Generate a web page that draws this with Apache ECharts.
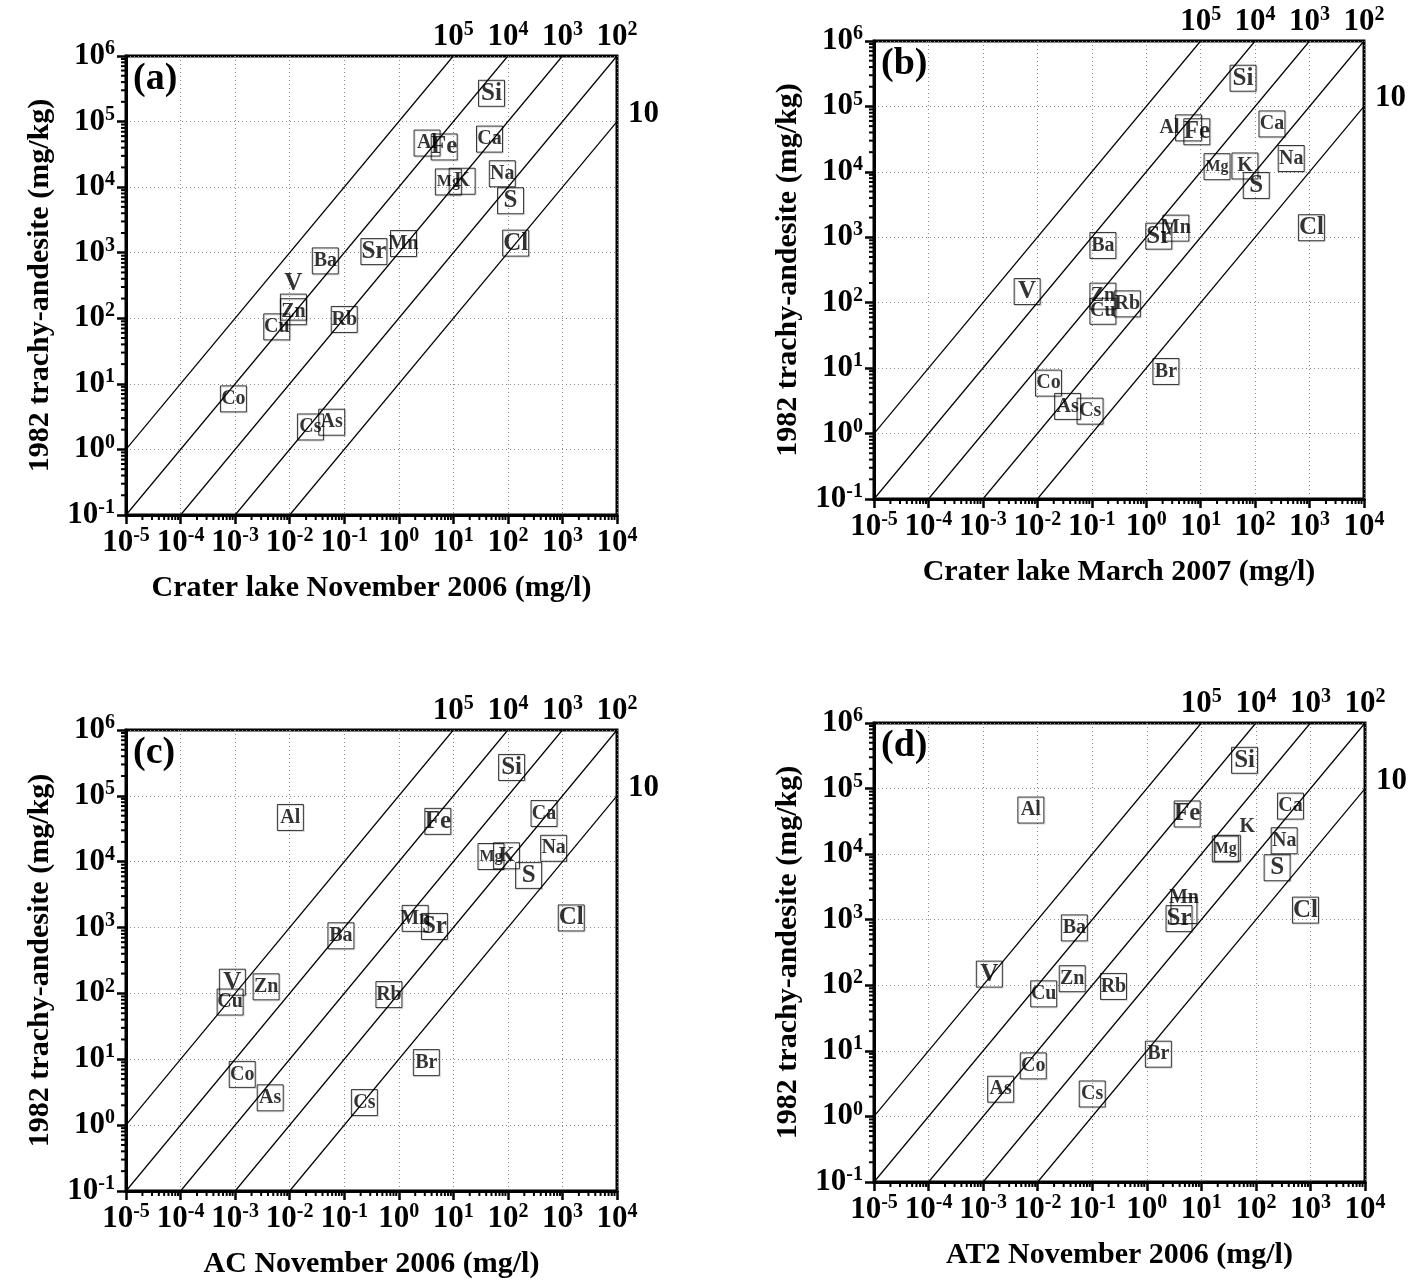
<!DOCTYPE html>
<html lang="en">
<head>
    <meta charset="UTF-8">
    <title>Trachy-andesite vs lake water</title>
    <script src="https://cdn.jsdelivr.net/npm/echarts@6.0.0/dist/echarts.min.js"></script>
    <style>
        body, html {
            margin: 0;
            padding: 0;
            background: #fff;
        }
        #chart {
            width: 1426px;
            height: 1288px;
        }
    </style>
</head>
<body>
<div id="chart"></div>
<script>
    // element order shared by every panel
    const elements = ['Si', 'Al', 'Fe', 'Ca', 'Na', 'Mg', 'K', 'S', 'Cl', 'Mn', 'Sr', 'Ba', 'V', 'Zn', 'Cu', 'Rb', 'Br', 'Co', 'As', 'Cs'];
    // 1982 trachy-andesite (mg/kg)
    const rock1982 = [2.7e5, 4.7e4, 4.1e4, 5.4e4, 1.6e4, 1.2e4, 1.23e4, 6.2e3, 1.4e3, 1.38e3, 1.04e3, 750, 148, 126, 74, 96, 8.9, 5.9, 2.6, 2.2];
    // waters (mg/l)
    const craterNov2006 = [50, 3.3, 6.8, 46, 79, 8.1, 14.5, 112, 139, 1.22, 0.35, 0.045, 0.0117, 0.0117, 0.0058, 0.10, null, 0.00093, 0.059, 0.024];
    const craterMar2007 = [60, 6.0, 8.5, 204, 460, 20, 65, 105, 1080, 3.5, 1.7, 0.16, 0.0065, 0.16, 0.16, 0.45, 2.3, 0.016, 0.036, 0.093];
    const acNov2006 = [117, 0.0103, 5.2, 460, 690, 49, 94, 240, 1450, 2.0, 4.5, 0.087, 0.00089, 0.0037, 0.00081, 0.66, 3.2, 0.00135, 0.0044, 0.234];
    const at2Nov2006 = [62, 0.0075, 5.5, 430, 330, 27.5, 30, 245, 810, 4.8, 3.9, 0.047, 0.0013, 0.043, 0.0129, 0.245, 1.63, 0.0083, 0.0021, 0.10];
    // rock / water ratio lines
    const ratios = [1e5, 1e4, 1e3, 1e2, 10];

    const panelTags = ['(a)', '(b)', '(c)', '(d)'];
    const xNames = ['Crater lake November 2006 (mg/l)', 'Crater lake March 2007 (mg/l)', 'AC November 2006 (mg/l)', 'AT2 November 2006 (mg/l)'];
    const yName = '1982 trachy-andesite (mg/kg)';
    const waters = [craterNov2006, craterMar2007, acNov2006, at2Nov2006];

    const X_MIN = 1e-5, X_MAX = 1e4, Y_MIN = 0.1, Y_MAX = 1e6;
    const FONT = '"Liberation Serif", "Times New Roman", serif';

    const grids = [
        {left: 126, top: 56, width: 491, height: 459},
        {left: 874, top: 41, width: 490, height: 458},
        {left: 126, top: 730, width: 491, height: 461},
        {left: 874, top: 723, width: 491, height: 459}
    ];

    // labels that sit off their box in the original
    const labelShift = [{V: [0, -24]}, {Al: [-19, 0]}, {}, {K: [20, -21], Mn: [0, -13]}];
    const bigLabels = ['Si', 'Fe', 'Sr', 'Cl', 'S', 'V'];

    function labelSize(el) {
        if (bigLabels.indexOf(el) >= 0) return 25;
        if (el === 'Mg') return 16;
        return 20;
    }

    const exp = v => Math.round(Math.log10(v));
    const ratioText = k => exp(k) === 1 ? '{b|10}' : '{b|10}{s|' + exp(k) + '}';

    // where each ratio line leaves the frame: top edge or right edge
    const topMap = {}, rightMap = {};
    ratios.forEach(k => {
        if (Y_MAX / k <= X_MAX) topMap[exp(Y_MAX / k)] = ratioText(k);
        else rightMap[exp(X_MAX * k)] = ratioText(k);
    });

    const rich = {
        b: {fontFamily: FONT, fontWeight: 'bold', fontSize: 31, lineHeight: 34, color: '#000'},
        s: {fontFamily: FONT, fontWeight: 'bold', fontSize: 20, lineHeight: 21, verticalAlign: 'top', color: '#000'}
    };

    // log minor ticks (2..9 in each decade)
    const minorTicks = [];
    for (let e = -5; e < 4; e++) {
        for (let d = 2; d <= 9; d++) minorTicks.push([d * Math.pow(10, e), Y_MIN, 0]);
    }
    for (let e = -1; e < 6; e++) {
        for (let d = 2; d <= 9; d++) minorTicks.push([X_MIN, d * Math.pow(10, e), 1]);
    }

    const xAxis = [], yAxis = [], series = [], graphic = [];

    grids.forEach((g, i) => {
        xAxis.push({
            type: 'log', gridIndex: i, min: X_MIN, max: X_MAX, splitNumber: 9, position: 'bottom',
            name: xNames[i], nameLocation: 'middle', nameGap: 58,
            nameTextStyle: {fontFamily: FONT, fontWeight: 'bold', fontSize: 30, color: '#000'},
            axisLine: {lineStyle: {color: '#000', width: 3}},
            axisTick: {length: 9, lineStyle: {color: '#000', width: 2.5}},
            splitLine: {show: true, lineStyle: {color: '#888', type: [1, 3], width: 1}},
            axisLabel: {margin: 11, formatter: v => '{b|10}{s|' + exp(v) + '}', rich: rich}
        });
        xAxis.push({
            type: 'log', gridIndex: i, min: X_MIN, max: X_MAX, splitNumber: 9, position: 'top',
            axisLine: {show: false}, axisTick: {show: false}, splitLine: {show: false},
            axisLabel: {margin: 2, formatter: v => topMap[exp(v)] || '', rich: rich}
        });
        yAxis.push({
            type: 'log', gridIndex: i, min: Y_MIN, max: Y_MAX, splitNumber: 7, position: 'left',
            name: yName, nameLocation: 'middle', nameGap: 71,
            nameTextStyle: {fontFamily: FONT, fontWeight: 'bold', fontSize: 30, color: '#000'},
            axisLine: {lineStyle: {color: '#000', width: 3}},
            axisTick: {length: 9, lineStyle: {color: '#000', width: 2.5}},
            splitLine: {show: true, lineStyle: {color: '#888', type: [1, 3], width: 1}},
            axisLabel: {margin: 11, formatter: v => '{b|10}{s|' + exp(v) + '}', rich: rich}
        });
        yAxis.push({
            type: 'log', gridIndex: i, min: Y_MIN, max: Y_MAX, splitNumber: 7, position: 'right',
            axisLine: {show: false}, axisTick: {show: false}, splitLine: {show: false},
            axisLabel: {margin: 11, formatter: v => rightMap[exp(v)] || '', rich: {
                b: {fontFamily: FONT, fontWeight: 'bold', fontSize: 31, lineHeight: 34, padding: [0, 0, 16, 0], color: '#000'}
            }}
        });

        // ratio lines y = k * x, clipped to the frame
        ratios.forEach(k => {
            const x0 = Math.max(X_MIN, Y_MIN / k), x1 = Math.min(X_MAX, Y_MAX / k);
            series.push({
                type: 'line', xAxisIndex: 2 * i, yAxisIndex: 2 * i, silent: true, z: 2,
                showSymbol: false, symbol: 'none',
                lineStyle: {color: '#000', width: 1.2},
                data: [[x0, k * x0], [x1, k * x1]]
            });
        });

        const pts = [];
        elements.forEach((el, j) => {
            const x = waters[i][j];
            if (x == null) return;
            pts.push({
                name: el, value: [x, rock1982[j]],
                label: {fontSize: labelSize(el), offset: labelShift[i][el] || [0, 0]}
            });
        });
        series.push({
            type: 'scatter', xAxisIndex: 2 * i, yAxisIndex: 2 * i, z: 3,
            symbol: 'rect', symbolSize: [26, 26],
            itemStyle: {
                color: 'rgba(255,255,255,0)', borderColor: '#000', borderWidth: 1,
                shadowColor: 'rgba(0,0,0,0.2)', shadowOffsetX: 1, shadowOffsetY: 1, shadowBlur: 0
            },
            label: {
                show: true, position: 'inside', formatter: '{b}',
                fontFamily: FONT, fontWeight: 'bold', color: '#000'
            },
            emphasis: {disabled: true},
            data: pts
        });

        series.push({
            type: 'custom', xAxisIndex: 2 * i, yAxisIndex: 2 * i, z: 5, silent: true,
            dimensions: ['x', 'y', 'k'], encode: {x: 0, y: 1},
            renderItem: function (params, api) {
                const p = api.coord([api.value(0), api.value(1)]);
                const isY = api.value(2) === 1;
                return {
                    type: 'line',
                    shape: isY ? {x1: p[0] - 5, y1: p[1], x2: p[0], y2: p[1]}
                               : {x1: p[0], y1: p[1], x2: p[0], y2: p[1] + 5},
                    style: {stroke: '#000', lineWidth: 2}
                };
            },
            data: minorTicks
        });

        graphic.push({
            type: 'text', left: g.left + 7, top: g.top + 4, z: 10,
            style: {text: panelTags[i], font: 'bold 38px ' + FONT, fill: '#000'}
        });
    });

    const chart = echarts.init(document.getElementById('chart'));
    chart.setOption({
        animation: false,
        backgroundColor: '#fff',
        grid: grids.map(g => Object.assign({
            show: true, borderColor: '#000', borderWidth: 3, outerBoundsMode: 'none'
        }, g)),
        xAxis: xAxis,
        yAxis: yAxis,
        series: series,
        graphic: graphic
    });
</script>
</body>
</html>
